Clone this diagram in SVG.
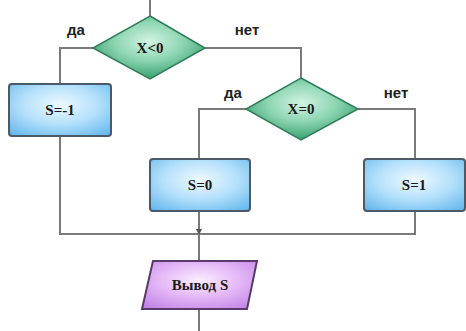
<svg xmlns="http://www.w3.org/2000/svg" width="466" height="331" viewBox="0 0 466 331">
<defs>
<radialGradient id="gBlue" cx="0.5" cy="0.4" r="0.75">
<stop offset="0" stop-color="#eef9ff"/>
<stop offset="0.5" stop-color="#b4e0fb"/>
<stop offset="1" stop-color="#62b6ec"/>
</radialGradient>
<radialGradient id="gGreen" cx="0.5" cy="0.4" r="0.6">
<stop offset="0" stop-color="#d2f3e3"/>
<stop offset="0.5" stop-color="#8ed6b2"/>
<stop offset="1" stop-color="#38a070"/>
</radialGradient>
<radialGradient id="gPurple" cx="0.5" cy="0.4" r="0.7">
<stop offset="0" stop-color="#fbeeff"/>
<stop offset="0.5" stop-color="#e4b8f7"/>
<stop offset="1" stop-color="#c486e6"/>
</radialGradient>
<marker id="arr" markerWidth="6" markerHeight="6" refX="5" refY="3" orient="auto" markerUnits="userSpaceOnUse">
<path d="M0,0 L6,3 L0,6 Z" fill="#555"/>
</marker>
</defs>
<style>
.ln{fill:none;stroke:#7a7a7a;stroke-width:2}
.rect{fill:url(#gBlue);stroke:#4b5a66;stroke-width:2}
.dia{fill:url(#gGreen);stroke:#2f7d5a;stroke-width:1.5}
.io{fill:url(#gPurple);stroke:#5a3a6a;stroke-width:2}
.t{font-family:"Liberation Serif",serif;font-weight:bold;font-size:15px;fill:#1a1a1a;text-anchor:middle}
.lb{font-family:"Liberation Sans",Arial,sans-serif;font-weight:bold;font-size:15px;fill:#222;text-anchor:middle}
</style>
<g id="connectors">
<path class="ln" d="M150,0 V16"/>
<path class="ln" d="M93,48 H60 V84"/>
<path class="ln" d="M205,48 H301 V78"/>
<path class="ln" d="M246,109 H199 V159"/>
<path class="ln" d="M358,109 H415 V159"/>
<path class="ln" d="M60,136 V234 H415 V211"/>
<path class="ln" d="M199,211 V234" marker-end="url(#arr)"/>
<path class="ln" d="M199,234 V261"/>
<path class="ln" d="M199,309 V331"/>
</g>
<g id="labels">
<text class="lb" x="76" y="35">да</text>
<text class="lb" x="247" y="35">нет</text>
<text class="lb" x="233" y="98">да</text>
<text class="lb" x="396" y="98">нет</text>
</g>
<g id="d1">
<polygon class="dia" points="150,16 205,48 150,79 93,48"/>
<text class="t" x="150" y="53">X&lt;0</text>
</g>
<g id="r1">
<rect class="rect" x="9" y="84" width="102" height="52" rx="3"/>
<text class="t" x="60" y="115">S=-1</text>
</g>
<g id="d2">
<polygon class="dia" points="301,78 358,109 301,140 246,109"/>
<text class="t" x="301" y="114">X=0</text>
</g>
<g id="r2">
<rect class="rect" x="150" y="159" width="100" height="52" rx="3"/>
<text class="t" x="200" y="190">S=0</text>
</g>
<g id="r3">
<rect class="rect" x="364" y="159" width="101" height="52" rx="3"/>
<text class="t" x="414" y="190">S=1</text>
</g>
<g id="out">
<polygon class="io" points="153,261 257,261 247,309 142,309"/>
<text class="t" x="200" y="290">Вывод S</text>
</g>
</svg>
